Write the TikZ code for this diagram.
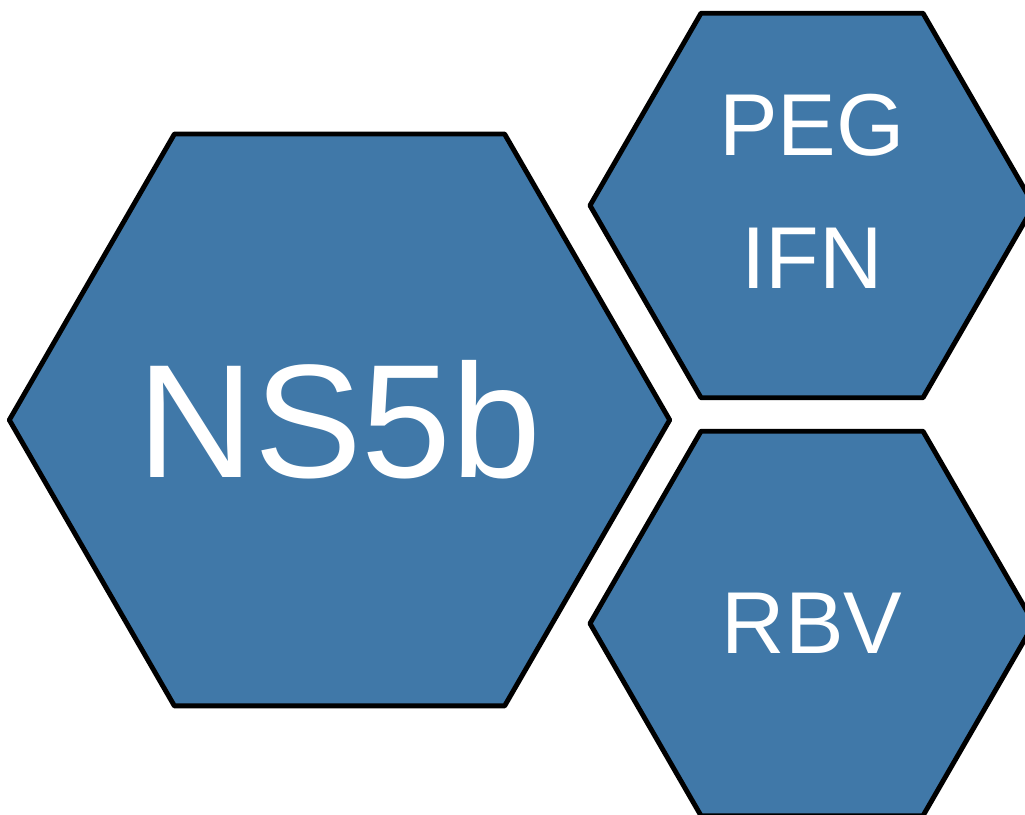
\documentclass[tikz,border=0pt]{standalone}
\usepackage{fontspec}
\setmainfont{Liberation Sans}
\usepackage{xcolor}
\usetikzlibrary{positioning,shapes.geometric}
\definecolor{hexc}{HTML}{4078A8}

\begin{document}
\begin{tikzpicture}[hex/.style={regular polygon, regular polygon sides=6, draw=black, fill=hexc,
                      line width=1.4pt, line join=round, inner sep=0pt, text=white},
                    every node/.style={font=\fontsize{25}{38}\selectfont}]
  \useasboundingbox (0,0) rectangle (10.25,8.15);
  \clip (0,0) rectangle (10.25,8.15);
  % large hexagon on the left
  \node[hex, minimum size=6.48cm, font=\fontsize{46}{50}\selectfont] (ns) at (3.395,3.95) {NS5b};
  % two small hexagons on the right
  \node[hex, minimum size=4.44cm] (peg) at (8.12,6.095) {};
  \node[hex, minimum size=4.44cm] (rbv) at (8.12,1.915) {RBV};
  \node[align=center, text=white] (pegtxt) at ([yshift=1.4mm]peg.center) {PEG\\IFN};
\end{tikzpicture}
\end{document}
